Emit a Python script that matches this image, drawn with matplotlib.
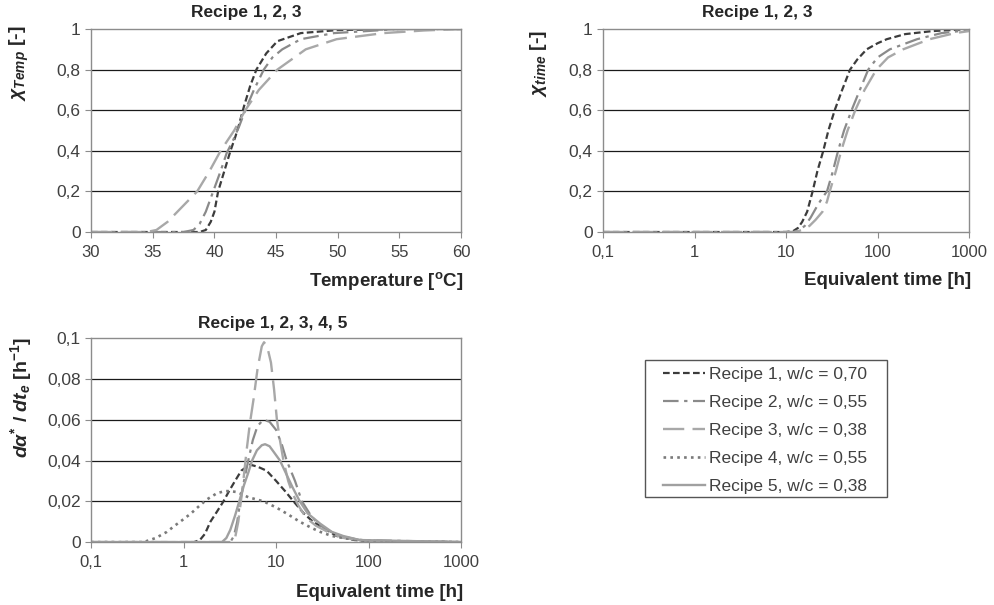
import matplotlib
matplotlib.use("Agg")
import matplotlib.pyplot as plt
from matplotlib.patches import Rectangle
from matplotlib.ticker import FuncFormatter, FixedLocator, NullLocator

plt.rcParams['font.family'] = ['Liberation Sans', 'DejaVu Sans']
plt.rcParams['mathtext.fontset'] = 'custom'
plt.rcParams['mathtext.it'] = 'Liberation Sans:italic:bold'
plt.rcParams['mathtext.rm'] = 'Liberation Sans:bold'
plt.rcParams['mathtext.bf'] = 'Liberation Sans:bold'

# --- degree of reaction vs temperature (recipes 1-3)
temp_r1 = [30, 38.8, 39.3, 39.7, 40, 40.3, 40.8, 41.3, 41.7, 42, 42.4, 42.9, 43.4, 44.2, 45.1, 47, 50, 55, 60]
gt_r1 = [0, 0, 0.01, 0.05, 0.1, 0.2, 0.3, 0.4, 0.47, 0.53, 0.62, 0.72, 0.8, 0.88, 0.94, 0.98, 0.995, 1, 1]
temp_r2 = [30, 37.5, 38.3, 38.8, 39.3, 39.9, 40.5, 41, 41.5, 42, 42.5, 43.2, 44, 44.7, 45.5, 47, 49.7, 55, 60]
gt_r2 = [0, 0, 0.01, 0.04, 0.1, 0.2, 0.3, 0.39, 0.45, 0.52, 0.6, 0.7, 0.8, 0.86, 0.9, 0.95, 0.98, 1, 1]
temp_r3 = [30, 34.5, 35.3, 36.2, 37, 37.8, 38.6, 39.6, 40.5, 41.6, 42.5, 43.6, 45.1, 47.4, 49.9, 53.7, 57, 60]
gt_r3 = [0, 0, 0.01, 0.05, 0.1, 0.15, 0.2, 0.3, 0.4, 0.5, 0.6, 0.7, 0.8, 0.9, 0.95, 0.98, 0.993, 1]

# --- degree of reaction vs equivalent time (recipes 1-3)
t_r1 = [0.1, 10, 12, 13.5, 15, 17, 19.5, 22, 25.5, 29, 34, 41, 50, 60, 76, 100, 126, 200, 400, 1000]
gtime_r1 = [0, 0, 0.005, 0.02, 0.05, 0.1, 0.2, 0.3, 0.4, 0.5, 0.6, 0.7, 0.8, 0.85, 0.9, 0.93, 0.95, 0.975, 0.99, 1]
t_r2 = [0.1, 12, 14, 16, 18.5, 22, 25, 28, 32.5, 37, 43, 52, 64, 79, 100, 136, 270, 500, 1000]
gtime_r2 = [0, 0, 0.01, 0.03, 0.07, 0.13, 0.17, 0.2, 0.3, 0.4, 0.5, 0.6, 0.7, 0.8, 0.86, 0.9, 0.95, 0.98, 0.995]
t_r3 = [0.1, 12.5, 15, 18, 21, 25, 28, 30, 35, 40, 47, 57, 72, 97, 130, 190, 370, 700, 1000]
gtime_r3 = [0, 0, 0.01, 0.03, 0.06, 0.1, 0.15, 0.2, 0.3, 0.4, 0.5, 0.6, 0.7, 0.8, 0.86, 0.9, 0.95, 0.98, 0.99]

# --- rate of reaction vs equivalent time (recipes 1-5)
rt_r1 = [0.1, 1.3, 1.5, 1.7, 1.95, 2.3, 2.7, 3.1, 3.6, 4.2, 5.2, 6.3, 7.9, 10, 12.5, 15.4, 20, 25, 35, 45, 70, 100, 1000]
rate_r1 = [0, 0, 0.001, 0.004, 0.01, 0.015, 0.02, 0.025, 0.03, 0.035, 0.038, 0.037, 0.035, 0.03, 0.025, 0.02, 0.014, 0.01, 0.006, 0.003, 0.001, 0.0005, 0]
rt_r2 = [0.1, 3.2, 3.5, 3.8, 4.1, 4.5, 5, 5.6, 6.3, 7.3, 8.5, 10, 11.5, 13, 16, 19, 23, 27, 35, 50, 80, 1000]
rate_r2 = [0, 0, 0.003, 0.01, 0.02, 0.03, 0.04, 0.05, 0.057, 0.06, 0.059, 0.055, 0.048, 0.04, 0.03, 0.02, 0.014, 0.01, 0.006, 0.003, 0.001, 0]
rt_r3 = [0.1, 3.3, 3.6, 3.9, 4.3, 4.8, 5.2, 5.7, 6.3, 7, 7.4, 8, 8.8, 9.5, 10.2, 11, 12, 13.5, 15, 17.4, 21, 27, 40, 54, 100, 1000]
rate_r3 = [0, 0, 0.002, 0.01, 0.025, 0.045, 0.058, 0.07, 0.085, 0.096, 0.098, 0.096, 0.088, 0.075, 0.06, 0.05, 0.04, 0.03, 0.024, 0.018, 0.012, 0.008, 0.004, 0.002, 0.0005, 0]
rt_r4 = [0.1, 0.37, 0.5, 0.66, 0.8, 0.92, 1.2, 1.5, 1.8, 2.3, 2.8, 3.2, 3.8, 5, 7.3, 10, 13, 18, 24, 30, 40, 53, 80, 150, 1000]
rate_r4 = [0, 0, 0.002, 0.005, 0.008, 0.01, 0.014, 0.018, 0.021, 0.024, 0.025, 0.025, 0.0245, 0.022, 0.02, 0.017, 0.014, 0.01, 0.007, 0.005, 0.003, 0.002, 0.001, 0.0003, 0]
rt_r5 = [0.1, 2.6, 2.9, 3.2, 3.6, 4, 4.5, 5, 5.5, 6.2, 7, 7.6, 8.5, 9.5, 11, 13, 15, 18, 22, 30, 40, 53, 80, 1000]
rate_r5 = [0, 0, 0.002, 0.006, 0.013, 0.02, 0.028, 0.034, 0.04, 0.045, 0.0475, 0.048, 0.047, 0.044, 0.04, 0.033, 0.027, 0.02, 0.014, 0.009, 0.005, 0.003, 0.001, 0]

labels = ['Recipe 1, w/c = 0,70', 'Recipe 2, w/c = 0,55', 'Recipe 3, w/c = 0,38',
          'Recipe 4, w/c = 0,55', 'Recipe 5, w/c = 0,38']

styles = [
    dict(color='#3c3c3c', ls=(0, (3, 1.5)), lw=1.6),
    dict(color='#8a8a8a', ls=(0, (7, 2.5, 1.5, 2.5)), lw=1.6),
    dict(color='#a8a8a8', ls=(0, (9, 3.5)), lw=1.7),
    dict(color='#7a7a7a', ls=(0, (1, 1.6)), lw=1.9),
    dict(color='#a0a0a0', ls='-', lw=1.7),
]

tick_col = '#404040'
txt_col = '#262626'
comma = FuncFormatter(lambda v, p: ('%g' % v).replace('.', ','))

fig = plt.figure(figsize=(9.95, 6.05), dpi=100)
ax1 = fig.add_axes([0.0915, 0.6165, 0.372, 0.3355])
ax2 = fig.add_axes([0.606, 0.6165, 0.368, 0.3355])
ax3 = fig.add_axes([0.0915, 0.104, 0.372, 0.337])


def style_axes(ax, yticks):
    for s in ax.spines.values():
        s.set_color('#8c8c8c')
        s.set_linewidth(1.0)
    ax.set_yticks(yticks)
    ax.yaxis.set_major_formatter(comma)
    ax.tick_params(axis='both', labelsize=12, labelcolor=tick_col, color='#8c8c8c',
                   length=4.5, width=0.8, direction='out')
    ax.tick_params(axis='y', labelsize=12.5, pad=3)
    ax.tick_params(axis='x', pad=5)
    for y in yticks[1:-1]:
        ax.axhline(y, color='#1a1a1a', lw=0.9, zorder=0)


# top-left
ax1.plot(temp_r1, gt_r1, **styles[0])
ax1.plot(temp_r2, gt_r2, **styles[1])
ax1.plot(temp_r3, gt_r3, **styles[2])
ax1.set_xlim(30, 60)
ax1.set_ylim(0, 1)
ax1.set_xticks([30, 35, 40, 45, 50, 55, 60])
style_axes(ax1, [0, 0.2, 0.4, 0.6, 0.8, 1])
ax1.text(0.42, 1.045, 'Recipe 1, 2, 3', transform=ax1.transAxes, ha='center', va='bottom',
         fontsize=12.5, fontweight='bold', color=txt_col)
ax1.text(1.005, -0.24, 'Temperature [$^{\\mathrm{o}}$C]', transform=ax1.transAxes, ha='right', va='center',
         fontsize=13.5, fontweight='bold', color=txt_col)
fig.text(0.02, 0.895, r'$\chi_{Temp}$ [-]', rotation=90, ha='center', va='center',
         fontsize=14, fontweight='bold', color=txt_col)

# top-right
ax2.plot(t_r1, gtime_r1, **styles[0])
ax2.plot(t_r2, gtime_r2, **styles[1])
ax2.plot(t_r3, gtime_r3, **styles[2])
ax2.set_xscale('log')
ax2.set_xlim(0.1, 1000)
ax2.set_ylim(0, 1)
ax2.xaxis.set_major_locator(FixedLocator([0.1, 1, 10, 100, 1000]))
ax2.xaxis.set_minor_locator(NullLocator())
ax2.xaxis.set_major_formatter(comma)
style_axes(ax2, [0, 0.2, 0.4, 0.6, 0.8, 1])
ax2.text(0.42, 1.045, 'Recipe 1, 2, 3', transform=ax2.transAxes, ha='center', va='bottom',
         fontsize=12.5, fontweight='bold', color=txt_col)
ax2.text(1.005, -0.24, 'Equivalent time [h]', transform=ax2.transAxes, ha='right', va='center',
         fontsize=13.5, fontweight='bold', color=txt_col)
fig.text(0.541, 0.895, r'$\chi_{time}$ [-]', rotation=90, ha='center', va='center',
         fontsize=14, fontweight='bold', color=txt_col)

# bottom
rate_t = [rt_r1, rt_r2, rt_r3, rt_r4, rt_r5]
rate_v = [rate_r1, rate_r2, rate_r3, rate_r4, rate_r5]
handles = []
for xs, ys, st, lab in zip(rate_t, rate_v, styles, labels):
    h, = ax3.plot(xs, ys, label=lab, **st)
    handles.append(h)
ax3.set_xscale('log')
ax3.set_xlim(0.1, 1000)
ax3.set_ylim(0, 0.1)
ax3.xaxis.set_major_locator(FixedLocator([0.1, 1, 10, 100, 1000]))
ax3.xaxis.set_minor_locator(NullLocator())
ax3.xaxis.set_major_formatter(comma)
style_axes(ax3, [0, 0.02, 0.04, 0.06, 0.08, 0.1])
ax3.text(0.49, 1.035, 'Recipe 1, 2, 3, 4, 5', transform=ax3.transAxes, ha='center', va='bottom',
         fontsize=12.5, fontweight='bold', color=txt_col)
ax3.text(1.005, -0.245, 'Equivalent time [h]', transform=ax3.transAxes, ha='right', va='center',
         fontsize=13.5, fontweight='bold', color=txt_col)
fig.text(0.021, 0.342, r'$d\alpha^{*}$ / $dt_{e}$ [h$^{-1}$]', rotation=90, ha='center', va='center',
         fontsize=14, fontweight='bold', color=txt_col)

# legend: text block plus a separate plain frame
leg = fig.legend(handles=handles, labels=labels, loc='upper left',
                 bbox_to_anchor=(663 / 995, 1 - 367 / 605), fontsize=12.5,
                 frameon=False, handlelength=2.4, handletextpad=0.25,
                 labelspacing=0.74, borderpad=0, borderaxespad=0)
for t in leg.get_texts():
    t.set_color('#404040')
fig.patches.append(Rectangle((645 / 995, 1 - 497 / 605), 242 / 995, 137 / 605,
                             transform=fig.transFigure, fill=False,
                             edgecolor='#555555', linewidth=1.0))

fig.savefig('out.png', dpi=100)
